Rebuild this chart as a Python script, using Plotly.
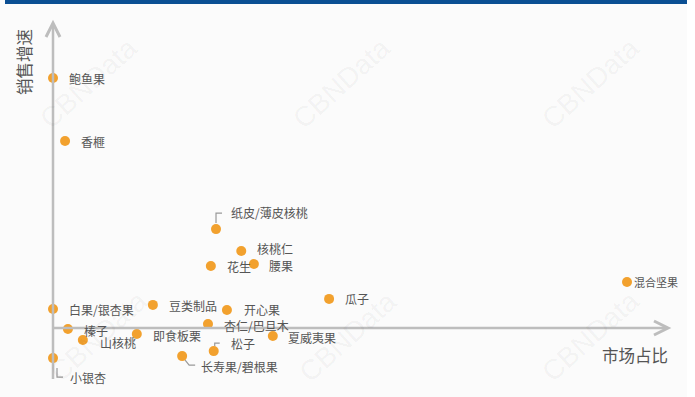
import plotly.graph_objects as go

# ---- data (market share vs. sales growth; arbitrary units) ----
names = ["鲍鱼果", "香榧", "纸皮/薄皮核桃", "核桃仁", "花生", "腰果", "瓜子", "豆类制品",
         "开心果", "白果/银杏果", "杏仁/巴旦木", "榛子", "山核桃", "即食板栗", "夏威夷果",
         "松子", "长寿果/碧根果", "小银杏", "混合坚果"]
share = [0.0, 2.1, 28.4, 32.8, 27.5, 35.0, 48.1, 17.4,
         30.3, 0.0, 27.0, 2.6, 5.2, 14.6, 38.3,
         28.0, 22.5, 0.0, 100.0]
growth = [100.0, 74.9, 39.8, 31.1, 25.1, 25.9, 12.0, 9.6,
          7.6, 8.0, 2.0, 0.0, -4.4, -2.0, -2.8,
          -8.8, -10.8, -11.6, 18.7]
# label offsets in pixels (dx right, dy down) from each point
label_dx = [15, 15, 14, 15, 15, 14, 15, 15, 16, 15, 15, 15, 16, 15, 14, 16, 18, 16, 6]
label_dy = [0, 0, -17, -2, 0, 2, 0, 1, 0, 1, 2, 1, 2, 1, 1, -8, 10, 19, 0]

x_title = "市场占比"
y_title = "销售增速"
watermark = "CBNData"

# ---- geometry ----
W, H = 695, 397
X0, SX = 53, 5.74   # pixel of x=0, pixels per unit
Y0, SY = 329, 2.51  # pixel of y=0, pixels per unit
xr = [(0 - X0) / SX, (W - X0) / SX]
yr = [(Y0 - H) / SY, (Y0 - 0) / SY]

def px(p):
    return p / W

def py(p):
    return 1 - p / H

ORANGE = "#F2A12E"
GRAY = "#BDBDBD"
TXT = "#555555"
FONT = "Noto Sans CJK SC"

fig = go.Figure()
fig.add_trace(go.Scatter(
    x=share, y=growth, mode="markers",
    marker=dict(size=10, color=ORANGE, line=dict(width=0)),
    hoverinfo="text", text=names, showlegend=False,
))

shapes = []
# background panel + top bar
shapes.append(dict(type="rect", xref="paper", yref="paper", x0=0, x1=px(687), y0=0, y1=1,
                   fillcolor="#FBFBFB", line=dict(width=0), layer="below"))
shapes.append(dict(type="rect", xref="paper", yref="paper", x0=px(5), x1=px(687), y0=py(4), y1=1,
                   fillcolor="#0B4F93", line=dict(width=0)))
# y axis line + chevron
shapes.append(dict(type="line", xref="paper", yref="paper", x0=px(53), x1=px(53), y0=py(379), y1=py(24),
                   line=dict(color=GRAY, width=2.5)))
shapes.append(dict(type="path", xref="paper", yref="paper",
                   path=f"M {px(46)} {py(37)} L {px(53)} {py(23)} L {px(60)} {py(37)}",
                   line=dict(color=GRAY, width=3)))
# x axis line + chevron
shapes.append(dict(type="line", xref="paper", yref="paper", x0=px(53), x1=px(667), y0=py(328), y1=py(328),
                   line=dict(color=GRAY, width=2.5)))
shapes.append(dict(type="path", xref="paper", yref="paper",
                   path=f"M {px(654)} {py(321)} L {px(668)} {py(328)} L {px(654)} {py(335)}",
                   line=dict(color=GRAY, width=3)))

# leader lines (pixel offsets from the point)
leaders = {
    "纸皮/薄皮核桃": [(0, -6), (0, -16), (6, -16)],
    "松子": [(1, -5), (1, -8), (6, -8)],
    "长寿果/碧根果": [(3, 4), (7, 9), (13, 9)],
    "小银杏": [(4, 10), (4, 19), (10, 19)],
}
for n, pts in leaders.items():
    i = names.index(n)
    ppx = X0 + share[i] * SX
    ppy = Y0 - growth[i] * SY
    path = " ".join(("M" if k == 0 else "L") + f" {px(ppx + dx)} {py(ppy + dy)}"
                    for k, (dx, dy) in enumerate(pts))
    shapes.append(dict(type="path", xref="paper", yref="paper", path=path,
                       line=dict(color="#999999", width=1.2)))

annotations = []
# watermarks (drawn first, underneath)
for (wx, wy) in [(88, 83), (341, 83), (590, 83), (98, 336), (348, 336), (590, 336)]:
    annotations.append(dict(x=px(wx), y=py(wy), xref="paper", yref="paper", text=watermark,
                            showarrow=False, textangle=-42, xanchor="center", yanchor="middle",
                            font=dict(family="Liberation Sans", size=28, color="rgba(0,0,0,0.05)")))

for i, n in enumerate(names):
    annotations.append(dict(
        x=share[i], y=growth[i], xref="x", yref="y", text=n, showarrow=False,
        xanchor="left", yanchor="middle", xshift=label_dx[i], yshift=-label_dy[i],
        borderpad=0,
        font=dict(family=FONT, size=11 if n == "混合坚果" else 12, color=TXT),
    ))

# axis titles
annotations.append(dict(x=px(635), y=py(355), xref="paper", yref="paper", text=x_title,
                        showarrow=False, xanchor="center", yanchor="middle",
                        font=dict(family=FONT, size=16.5, color=TXT)))
annotations.append(dict(x=px(24), y=py(62), xref="paper", yref="paper", text=y_title,
                        showarrow=False, xanchor="center", yanchor="middle", textangle=-90,
                        font=dict(family=FONT, size=16.5, color=TXT)))

fig.update_layout(
    width=W, height=H,
    margin=dict(l=0, r=0, t=0, b=0),
    paper_bgcolor="white", plot_bgcolor="rgba(0,0,0,0)",
    xaxis=dict(range=xr, visible=False, fixedrange=True),
    yaxis=dict(range=yr, visible=False, fixedrange=True),
    shapes=shapes, annotations=annotations,
    showlegend=False,
)

fig.write_html("out.html", config={"displayModeBar": False},
               post_script="document.body.style.margin='0';document.body.style.overflow='hidden';")
